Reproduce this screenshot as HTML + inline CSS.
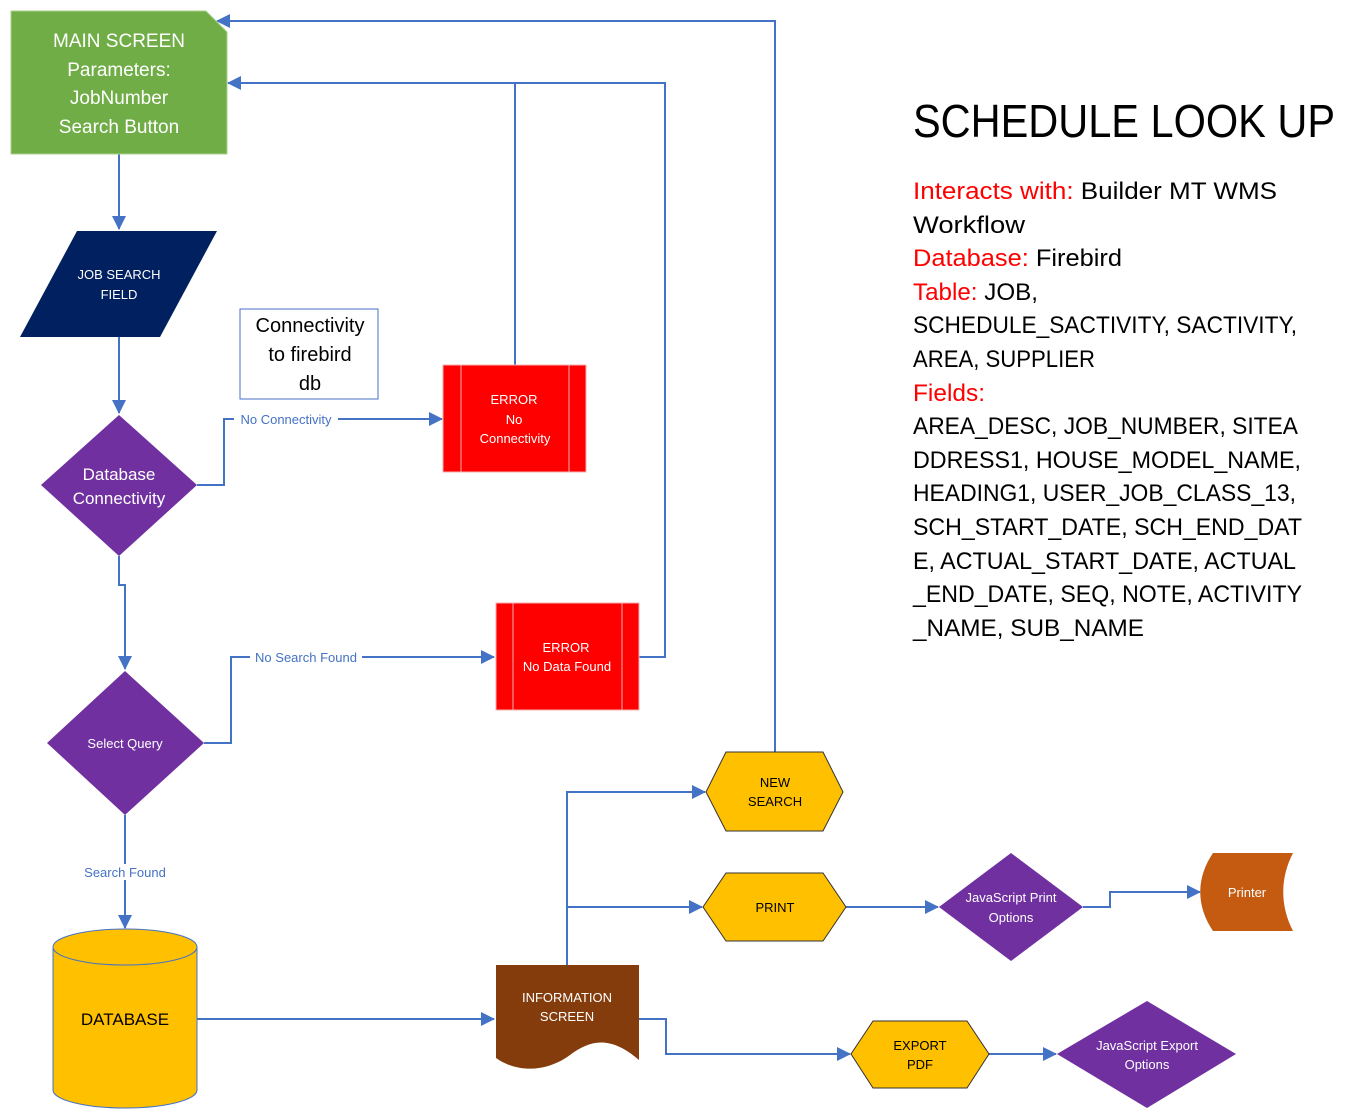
<!DOCTYPE html>
<html><head><meta charset="utf-8"><style>
html,body{margin:0;padding:0;background:#fff;}
svg{display:block;font-family:"Liberation Sans",sans-serif;}
</style></head><body>
<svg width="1372" height="1120" viewBox="0 0 1372 1120" xmlns="http://www.w3.org/2000/svg">
<defs>
<marker id="a" markerWidth="10" markerHeight="10" refX="9" refY="5" orient="auto" markerUnits="userSpaceOnUse">
<path d="M0,0 L10,5 L0,10 z" fill="#4472c4"/></marker>
<marker id="b" markerWidth="14" markerHeight="14" refX="13" refY="7" orient="auto" markerUnits="userSpaceOnUse">
<path d="M0,0 L14,7 L0,14 z" fill="#4472c4"/></marker>
</defs>
<g fill="none" stroke="#4472c4" stroke-width="2">
<path d="M775,752 V21 H217" marker-end="url(#b)"/>
<path d="M515,365 V83 H228" marker-end="url(#b)"/>
<path d="M639,657 H665 V83 H515"/>
<path d="M119,154 V229" marker-end="url(#b)"/>
<path d="M119,337 V413" marker-end="url(#b)"/>
<path d="M197,485 H224 V419 H442" marker-end="url(#b)"/>
<path d="M119,556 V585 H125 V669" marker-end="url(#b)"/>
<path d="M204,743 H231 V657 H494" marker-end="url(#b)"/>
<path d="M125,815 V928" marker-end="url(#b)"/>
<path d="M197,1019 H494" marker-end="url(#b)"/>
<path d="M567,965 V792 H705" marker-end="url(#b)"/>
<path d="M567,907 H702" marker-end="url(#b)"/>
<path d="M639,1019 H666 V1054 H850" marker-end="url(#b)"/>
<path d="M846,907 H938" marker-end="url(#b)"/>
<path d="M1083,907 H1110 V892 H1200" marker-end="url(#b)"/>
<path d="M989,1054 H1056" marker-end="url(#b)"/>
</g>
<!-- labels on connectors -->
<rect x="234" y="411" width="104" height="16" fill="#fff"/>
<text x="286" y="424" font-size="13" fill="#4472c4" text-anchor="middle">No Connectivity</text>
<rect x="250" y="649" width="112" height="16" fill="#fff"/>
<text x="306" y="662" font-size="13" fill="#4472c4" text-anchor="middle">No Search Found</text>
<rect x="80" y="864" width="90" height="16" fill="#fff"/>
<text x="125" y="877" font-size="13" fill="#4472c4" text-anchor="middle">Search Found</text>

<!-- main screen -->
<path d="M11,11 H206 L227,32 V154 H11 Z" fill="#70ad47" stroke="#a9d18e" stroke-width="1"/>
<g fill="#fff" font-size="19" text-anchor="middle">
<text x="119" y="47">MAIN SCREEN</text>
<text x="119" y="76">Parameters:</text>
<text x="119" y="104">JobNumber</text>
<text x="119" y="133">Search Button</text>
</g>
<path d="M77,231 H217 L160,337 H20 Z" fill="#002060"/>
<text x="119" y="279" font-size="13" fill="#fff" text-anchor="middle">JOB SEARCH</text>
<text x="119" y="299" font-size="13" fill="#fff" text-anchor="middle">FIELD</text>

<path d="M119,415 L197,485 L119,556 L41,485 Z" fill="#7030a0"/>
<text x="119" y="480" font-size="17" fill="#fff" text-anchor="middle">Database</text>
<text x="119" y="504" font-size="17" fill="#fff" text-anchor="middle">Connectivity</text>

<rect x="240" y="309" width="138" height="90" fill="#fff" stroke="#4472c4" stroke-width="1"/>
<g font-size="20" fill="#000" text-anchor="middle">
<text x="310" y="332">Connectivity</text>
<text x="310" y="361">to firebird</text>
<text x="310" y="390">db</text>
</g>

<rect x="443" y="365" width="143" height="107" fill="#ff0000" stroke="#f4b0b0" stroke-width="1"/>
<line x1="461" y1="365" x2="461" y2="472" stroke="#f4b0b0"/><line x1="569" y1="365" x2="569" y2="472" stroke="#f4b0b0"/>
<g font-size="13" fill="#fff" text-anchor="middle">
<text x="514" y="404">ERROR</text><text x="514" y="424">No</text><text x="515" y="443">Connectivity</text>
</g>

<rect x="496" y="603" width="143" height="107" fill="#ff0000" stroke="#f4b0b0" stroke-width="1"/>
<line x1="513" y1="603" x2="513" y2="710" stroke="#f4b0b0"/><line x1="622" y1="603" x2="622" y2="710" stroke="#f4b0b0"/>
<g font-size="13" fill="#fff" text-anchor="middle">
<text x="566" y="652">ERROR</text><text x="567" y="671">No Data Found</text>
</g>

<path d="M125,671 L204,743 L125,815 L47,743 Z" fill="#7030a0"/>
<text x="125" y="748" font-size="13" fill="#fff" text-anchor="middle">Select Query</text>

<!-- database -->
<path d="M53,947 V1090 A72,18 0 0 0 197,1090 V947" fill="#ffc000" stroke="#4472c4" stroke-width="1"/>
<ellipse cx="125" cy="947" rx="72" ry="18" fill="#ffc000" stroke="#4472c4" stroke-width="1"/>
<text x="125" y="1025" font-size="17" fill="#000" text-anchor="middle">DATABASE</text>

<!-- info screen -->
<path d="M496,965 H639 V1060 C610,1035 590,1040 570,1055 C550,1070 520,1075 496,1058 Z" fill="#843c0c"/>
<text x="567" y="1002" font-size="13" fill="#fff" text-anchor="middle">INFORMATION</text>
<text x="567" y="1021" font-size="13" fill="#fff" text-anchor="middle">SCREEN</text>

<g fill="#ffc000" stroke="#333" stroke-width="1">
<path d="M706,792 L726,752 H823 L843,792 L823,831 H726 Z"/>
<path d="M703,907 L726,873 H823 L846,907 L823,941 H726 Z"/>
<path d="M851,1054 L873,1021 H967 L989,1054 L967,1088 H873 Z"/>
</g>
<g font-size="13" fill="#000" text-anchor="middle">
<text x="775" y="787">NEW</text><text x="775" y="806">SEARCH</text>
<text x="775" y="912">PRINT</text>
<text x="920" y="1050">EXPORT</text><text x="920" y="1069">PDF</text>
</g>

<path d="M1011,853 L1083,907 L1011,961 L939,907 Z" fill="#7030a0"/>
<text x="1011" y="902" font-size="13" fill="#fff" text-anchor="middle">JavaScript Print</text>
<text x="1011" y="922" font-size="13" fill="#fff" text-anchor="middle">Options</text>

<path d="M1147,1001 L1236,1054 L1147,1108 L1057,1054 Z" fill="#7030a0"/>
<text x="1147" y="1050" font-size="13" fill="#fff" text-anchor="middle">JavaScript Export</text>
<text x="1147" y="1069" font-size="13" fill="#fff" text-anchor="middle">Options</text>

<path d="M1213,853 H1293 C1280,878 1280,906 1293,931 H1213 C1196,906 1196,878 1213,853 Z" fill="#c55a11"/>
<text x="1247" y="897" font-size="13" fill="#fff" text-anchor="middle">Printer</text>

<!-- right text -->
<text x="913" y="137" font-size="46" fill="#000" textLength="422" lengthAdjust="spacingAndGlyphs">SCHEDULE LOOK UP</text>
<g font-size="24" fill="#000">
<text x="913" y="199" textLength="364" lengthAdjust="spacingAndGlyphs"><tspan fill="#ff0000">Interacts with:</tspan> Builder MT WMS</text>
<text x="913" y="233" textLength="112" lengthAdjust="spacingAndGlyphs">Workflow</text>
<text x="913" y="266" textLength="209" lengthAdjust="spacingAndGlyphs"><tspan fill="#ff0000">Database:</tspan> Firebird</text>
<text x="913" y="300" textLength="125" lengthAdjust="spacingAndGlyphs"><tspan fill="#ff0000">Table:</tspan> JOB,</text>
<text x="913" y="333" textLength="384" lengthAdjust="spacingAndGlyphs">SCHEDULE_SACTIVITY, SACTIVITY,</text>
<text x="913" y="367" textLength="182" lengthAdjust="spacingAndGlyphs">AREA, SUPPLIER</text>
<text x="913" y="401" textLength="72" lengthAdjust="spacingAndGlyphs" fill="#ff0000">Fields:</text>
<text x="913" y="434" textLength="385" lengthAdjust="spacingAndGlyphs">AREA_DESC, JOB_NUMBER, SITEA</text>
<text x="913" y="468" textLength="388" lengthAdjust="spacingAndGlyphs">DDRESS1, HOUSE_MODEL_NAME,</text>
<text x="913" y="501" textLength="383" lengthAdjust="spacingAndGlyphs">HEADING1, USER_JOB_CLASS_13,</text>
<text x="913" y="535" textLength="389" lengthAdjust="spacingAndGlyphs">SCH_START_DATE, SCH_END_DAT</text>
<text x="913" y="569" textLength="383" lengthAdjust="spacingAndGlyphs">E, ACTUAL_START_DATE, ACTUAL</text>
<text x="913" y="602" textLength="389" lengthAdjust="spacingAndGlyphs">_END_DATE, SEQ, NOTE, ACTIVITY</text>
<text x="913" y="636" textLength="231" lengthAdjust="spacingAndGlyphs">_NAME, SUB_NAME</text>
</g>
</svg>
</body></html>
